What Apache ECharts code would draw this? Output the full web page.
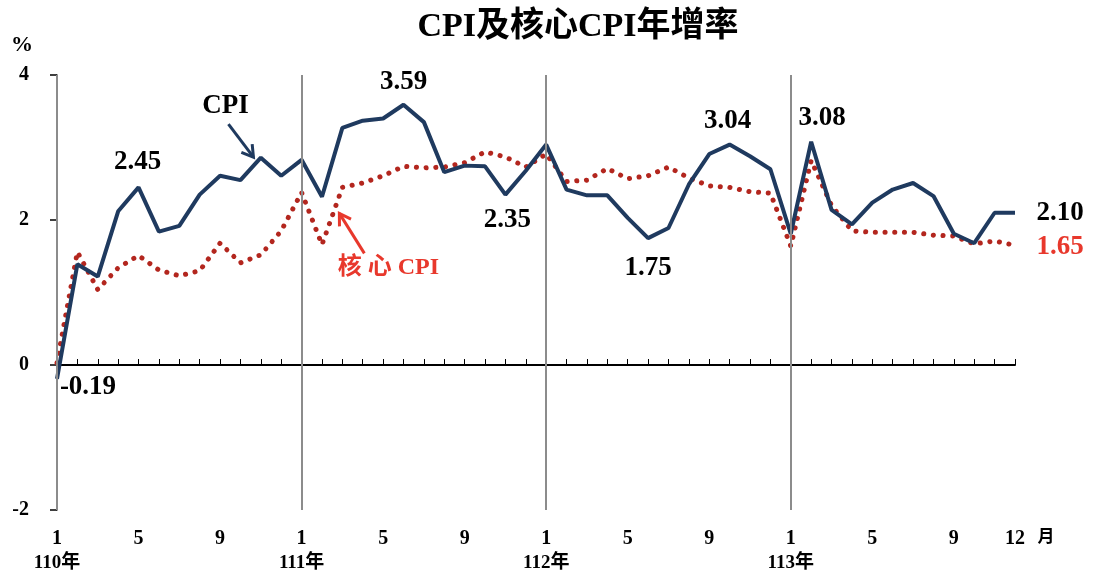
<!DOCTYPE html>
<html>
<head>
<meta charset="utf-8">
<script src="https://cdn.jsdelivr.net/npm/echarts@6/dist/echarts.min.js"></script>
<style>
html,body{margin:0;padding:0;background:#fff;}
#c{width:1102px;height:582px;}
</style>
</head>
<body>
<div id="c"></div>
<script>
// ---- data ----
var months = [1,2,3,4,5,6,7,8,9,10,11,12, 1,2,3,4,5,6,7,8,9,10,11,12, 1,2,3,4,5,6,7,8,9,10,11,12, 1,2,3,4,5,6,7,8,9,10,11,12];
var years = ['110年','111年','112年','113年'];
var shownMonths = [1,5,9];
var cpi = [-0.19,1.39,1.22,2.12,2.45,1.84,1.92,2.35,2.61,2.55,2.86,2.61,
           2.83,2.32,3.27,3.37,3.40,3.59,3.35,2.66,2.75,2.74,2.35,2.68,
           3.04,2.42,2.34,2.34,2.03,1.75,1.89,2.49,2.91,3.04,2.88,2.70,
           1.81,3.08,2.14,1.94,2.24,2.42,2.51,2.33,1.81,1.68,2.10,2.10];
var core = [0.03,1.56,1.04,1.34,1.51,1.31,1.23,1.30,1.68,1.41,1.52,1.85,
            2.38,1.66,2.45,2.51,2.61,2.74,2.72,2.73,2.79,2.94,2.87,2.73,
            2.91,2.53,2.55,2.71,2.57,2.61,2.73,2.58,2.47,2.45,2.39,2.37,
            1.64,2.82,2.20,1.85,1.83,1.83,1.83,1.79,1.78,1.67,1.71,1.65];
var yTicks = [-2,0,2,4];

var SERIF = "'Liberation Serif','Noto Sans CJK TC',serif";
var cats = months.map(function(m,i){ return String(i); });

var chart = echarts.init(document.getElementById('c'));
chart.setOption({
  animation:false,
  backgroundColor:'#fff',
  grid:{left:57, right:87, top:75, bottom:72},
  xAxis:[{
    type:'category', data:cats, boundaryGap:false,
    axisLine:{onZero:true, lineStyle:{color:'#000', width:2}},
    axisTick:{show:true, inside:true, length:6, interval:0, lineStyle:{color:'#000', width:1}},
    axisLabel:{show:false}, splitLine:{show:false}
  },{
    type:'category', data:cats, boundaryGap:false, position:'bottom',
    axisLine:{show:false, onZero:false}, axisTick:{show:false},
    axisLabel:{
      show:true, interval:0, margin:16,
      formatter:function(v){
        var i = +v, m = months[i];
        var s = '';
        if (i === months.length-1) s = '{m|' + m + '}';
        else if (shownMonths.indexOf(m) >= 0) s = '{m|' + m + '}';
        else return '';
        if (m === 1) s += '\n{y|' + years[Math.floor(i/12)] + '}';
        return s;
      },
      rich:{
        m:{fontFamily:SERIF, fontWeight:'bold', fontSize:20, color:'#000', lineHeight:25},
        y:{fontFamily:SERIF, fontWeight:'bold', fontSize:19, color:'#000', lineHeight:25}
      }
    }
  }],
  yAxis:{
    type:'value', min:yTicks[0], max:yTicks[yTicks.length-1], interval:2,
    axisLine:{show:true, onZero:false, lineStyle:{color:'#8c8c8c', width:2}},
    axisTick:{show:true, length:7, lineStyle:{color:'#000', width:1.5}},
    axisLabel:{fontFamily:SERIF, fontWeight:'bold', fontSize:20, color:'#000', margin:28},
    splitLine:{show:false}
  },
  series:[{
    type:'line', data:[], z:1, silent:true,
    markLine:{
      silent:true, symbol:'none', animation:false,
      label:{show:false},
      lineStyle:{color:'#8c8c8c', width:2, type:'solid'},
      data:[{xAxis:'0'},{xAxis:'12'},{xAxis:'24'},{xAxis:'36'}]
    }
  },{
    name:'核心CPI', type:'line', data:core, z:3, symbol:'none', smooth:false,
    lineStyle:{color:'#b3261e', width:5, type:[0.1,9.6], cap:'round'}
  },{
    name:'CPI', type:'line', data:cpi, z:4, symbol:'none',
    lineStyle:{color:'#1f3a5f', width:4}
  }]
});

// ---- annotations anchored on data points ----
var NUM = {fontFamily:SERIF, fontWeight:'bold', fontSize:27, fill:'#000'};
var anns = [
  {s:cpi, i:0, dx:31, dy:8},
  {s:cpi, i:4, dx:-1, dy:-25},
  {s:cpi, i:17, dx:0, dy:-23},
  {s:cpi, i:22, dx:2, dy:25},
  {s:cpi, i:29, dx:0, dy:30},
  {s:cpi, i:33, dx:-2, dy:-24},
  {s:cpi, i:37, dx:11, dy:-24},
  {s:cpi, i:47, dx:45, dy:0},
  {s:core, i:47, dx:45, dy:2, red:true}
];
var g = [];
// title
g.push({type:'text', x:578, y:27, z:10,
  style:{text:'CPI及核心CPI年增率', fontFamily:SERIF, fontWeight:'bold', fontSize:34, fill:'#000', align:'center', verticalAlign:'middle'}});
function px(i,v){ return chart.convertToPixel({xAxisIndex:0, yAxisIndex:0}, [String(i), v]); }
anns.forEach(function(a){
  var p = px(a.i, a.s[a.i]);
  var val = a.s[a.i];
  g.push({type:'text', x:p[0]+a.dx, y:p[1]+a.dy, z:10,
    style:Object.assign({}, NUM, {text:val.toFixed(2), align:'center', verticalAlign:'middle', fill:a.red?'#e8382c':'#000'})});
});
// series name labels with arrows
var pc = px(9, cpi[9]);
g.push({type:'text', x:pc[0]-15, y:pc[1]-74, z:10,
  style:{text:'CPI', fontFamily:SERIF, fontWeight:'bold', fontSize:27, fill:'#000', align:'center', verticalAlign:'middle'}});
function arrow(x1,y1,x2,y2,color){
  var ang = Math.atan2(y2-y1, x2-x1), L = 13, w = 0.55;
  g.push({type:'line', z:10, shape:{x1:x1,y1:y1,x2:x2,y2:y2}, style:{stroke:color, lineWidth:3}});
  g.push({type:'polyline', z:10, shape:{points:[
    [x2 - L*Math.cos(ang-w), y2 - L*Math.sin(ang-w)], [x2,y2],
    [x2 - L*Math.cos(ang+w), y2 - L*Math.sin(ang+w)]]}, style:{stroke:color, lineWidth:3, fill:null}});
}
arrow(pc[0]-12, pc[1]-56, pc[0]+13, pc[1]-23, '#1f3a5f');
var pk = px(14, core[14]);
g.push({type:'text', x:pk[0]+46, y:pk[1]+80, z:10,
  style:{text:'核 心 CPI', fontFamily:SERIF, fontWeight:'bold', fontSize:24, fill:'#e8382c', align:'center', verticalAlign:'middle'}});
arrow(pk[0]+22, pk[1]+66, pk[0]-3, pk[1]+26, '#e8382c');
// unit labels
var yTop = px(0, yTicks[yTicks.length-1]);
g.push({type:'text', x:yTop[0]-35, y:yTop[1]-30, z:10,
  style:{text:'%', fontFamily:SERIF, fontWeight:'bold', fontSize:22, fill:'#000', align:'center', verticalAlign:'middle'}});
var xEnd = px(months.length-1, yTicks[0]);
g.push({type:'text', x:xEnd[0]+31, y:xEnd[1]+26, z:10,
  style:{text:'月', fontFamily:"'Noto Sans CJK TC',sans-serif", fontWeight:'bold', fontSize:17, fill:'#000', align:'center', verticalAlign:'middle'}});
chart.setOption({graphic:g});
</script>
</body>
</html>
